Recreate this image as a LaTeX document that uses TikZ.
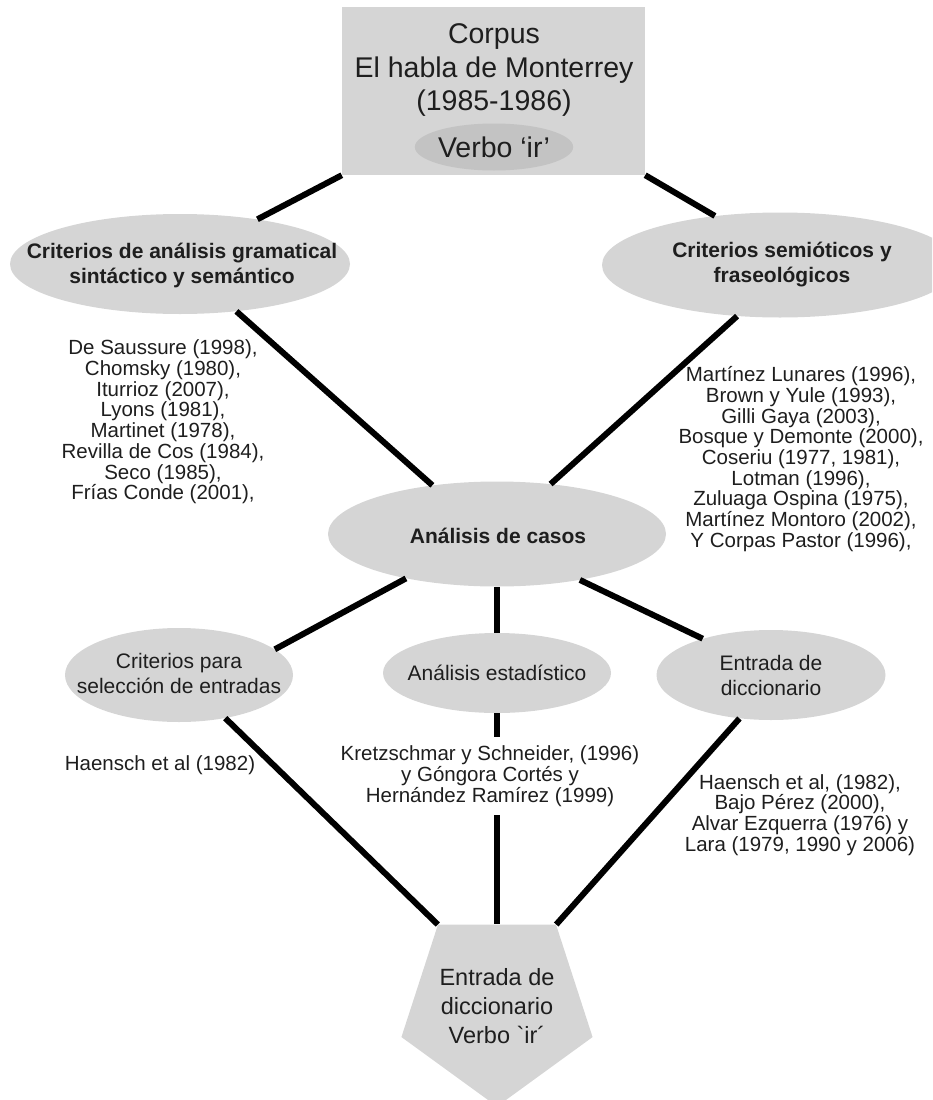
\documentclass[tikz,border=0pt]{standalone}
\usepackage{fontspec}
\usepackage{tikz}
\usetikzlibrary{shapes.geometric}
\newfontfamily\arial{Liberation Sans}
\definecolor{boxgray}{HTML}{D5D5D5}
\definecolor{ovalgray}{HTML}{C3C3C3}
\definecolor{inkgray}{HTML}{1E1E1E}

\begin{document}
\begin{tikzpicture}[x=1pt,y=-1pt]
\tikzstyle{every node}=[text=inkgray,align=center,inner sep=0pt];
\tikzstyle{oval}=[ellipse,fill=boxgray];
\tikzstyle{plain}=[font=\arial\fontsize{21}{25}\selectfont];
\tikzstyle{heavy}=[font=\arial\bfseries\fontsize{21}{25}\selectfont];
\tikzstyle{refs}=[font=\arial\fontsize{20.5}{20.7}\selectfont];
\tikzstyle{big}=[font=\arial\fontsize{28.5}{33.5}\selectfont];
\tikzstyle{link}=[line width=6pt,black];
\useasboundingbox (0,0) rectangle (932,1100);
\clip (0,0) rectangle (932,1100);
\node (C) at (493.5,91) [fill=boxgray,minimum width=303pt,minimum height=168pt] {};
\node (CT) at (494,70) [big] {Corpus\\El habla de Monterrey\\(1985-1986)};
\node (V) at (494,147) [ellipse,fill=ovalgray,minimum width=152pt,minimum height=47pt,big] {Verbo ‘ir’};
\node (GS) at (180,264) [oval,minimum width=340pt,minimum height=100pt] {};
\node (GSt) at (182,265) [heavy] {Criterios de análisis gramatical\\sintáctico y semántico};
\node (SF) at (780,265) [oval,minimum width=356pt,minimum height=105pt] {};
\node (SFt) at (782,265) [heavy] {Criterios semióticos y\\fraseológicos};
\node (AC) at (497,534) [oval,minimum width=338pt,minimum height=105pt] {};
\node (ACt) at (498,536) [heavy] {Análisis de casos};
\node (CS) at (179,675) [oval,minimum width=228pt,minimum height=94pt] {};
\node (CSt) at (179,673) [plain] {Criterios para\\selección de entradas};
\node (AE) at (497,673) [oval,minimum width=228pt,minimum height=80pt] {};
\node (AEt) at (497,673) [plain] {Análisis estadístico};
\node (ED) at (771,675) [oval,minimum width=229pt,minimum height=90pt] {};
\node (EDt) at (771,675) [plain] {Entrada de\\diccionario};
\node (DV) at (497,1006) [regular polygon,regular polygon sides=5,shape border rotate=180,fill=boxgray,minimum size=196pt,font=\arial\fontsize{23.5}{29}\selectfont] {Entrada de\\diccionario\\Verbo `ir´};
\node (RG) at (163,422) [refs] {De Saussure (1998),\\Chomsky (1980),\\Iturrioz (2007),\\Lyons (1981),\\Martinet (1978),\\Revilla de Cos (1984),\\Seco (1985),\\Frías Conde (2001),};
\node (RS) at (801,459) [refs] {Martínez Lunares (1996),\\Brown y Yule (1993),\\Gilli Gaya (2003),\\Bosque y Demonte (2000),\\Coseriu (1977, 1981),\\Lotman (1996),\\Zuluaga Ospina (1975),\\Martínez Montoro (2002),\\Y Corpas Pastor (1996),};
\node (RCS) at (160,765) [refs] {Haensch et al (1982)};
\node (RAE) at (490,776) [refs,inner sep=9pt] {Kretzschmar y Schneider, (1996)\\y Góngora Cortés y\\Hernández Ramírez (1999)};
\node (RED) at (800,815) [refs] {Haensch et al, (1982),\\Bajo Pérez (2000),\\Alvar Ezquerra (1976) y\\Lara (1979, 1990 y 2006)};
\draw[link] (C.south west) -- (GS.30);
\draw[link] (C.south east) -- (SF.143);
\draw[link] (GS.-40) -- (AC.143);
\draw[link] (SF.230) -- (AC.43);
\draw[link] (AC.206) -- (CS.15);
\draw[link] (AC.south) -- (AE.north);
\draw[link] (AC.-29) -- (ED.152);
\draw[link] (CS.-43) -- (DV.126);
\draw[link] (AE.south) -- (AE.south |- RAE.north);
\draw[link] (DV.north |- RAE.south) -- (DV.north);
\draw[link] (ED.234) -- (DV.54);
\end{tikzpicture}
\end{document}
